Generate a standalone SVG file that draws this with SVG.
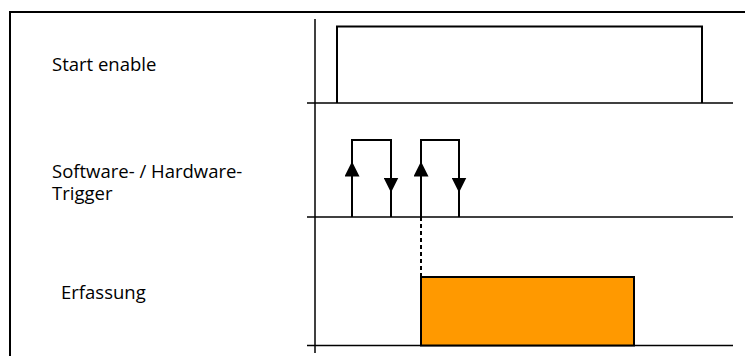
<svg xmlns="http://www.w3.org/2000/svg" width="745" height="356" viewBox="0 0 745 356">
<style>
.ln{stroke:#000;stroke-width:2;fill:none}
.ax{stroke:#000;stroke-width:1.5;fill:none}
.lbl{font-family:"Open Sans","Noto Sans",sans-serif;font-size:18.5px;fill:#000}
</style>
<defs>
<marker id="ah" viewBox="0 0 10 10" refX="5" refY="5" markerWidth="15" markerHeight="15" markerUnits="userSpaceOnUse" orient="auto">
<path d="M0,0 L10,5 L0,10 Z" fill="#000"/>
</marker>
</defs>
<rect width="745" height="356" fill="#fff"/>
<g id="frame">
<path class="ln" d="M10,356 V12 H745"/>
</g>
<g id="axes">
<path class="ax" d="M315,19 V353"/>
<path class="ax" d="M307,103 H733"/>
<path class="ax" d="M307,217 H733"/>
<path class="ax" d="M307,345.5 H733"/>
</g>
<g id="start-enable">
<text class="lbl" x="52" y="71">Start enable</text>
<path class="ln" d="M337,103 V26.5 H702 V103"/>
</g>
<g id="trigger">
<text class="lbl" x="52" y="178">Software- / Hardware-</text>
<text class="lbl" x="52" y="200">Trigger</text>
<path class="ln" d="M352,217 V140 H391 V217"/>
<path class="ln" d="M421,217 V140 H459 V217"/>
</g>
<g id="connectors">
<path d="M352,185 V169" stroke="none" fill="none" marker-end="url(#ah)"/>
<path d="M391,171 V185" stroke="none" fill="none" marker-end="url(#ah)"/>
<path d="M421,185 V169" stroke="none" fill="none" marker-end="url(#ah)"/>
<path d="M459,171 V185" stroke="none" fill="none" marker-end="url(#ah)"/>
<path d="M421,217 V277" stroke="#000" stroke-width="2" stroke-dasharray="4,3" fill="none"/>
</g>
<g id="erfassung">
<text class="lbl" x="61" y="299">Erfassung</text>
<rect x="421" y="277" width="213" height="68.5" fill="#ff9900" stroke="#000" stroke-width="2"/>
</g>
</svg>
